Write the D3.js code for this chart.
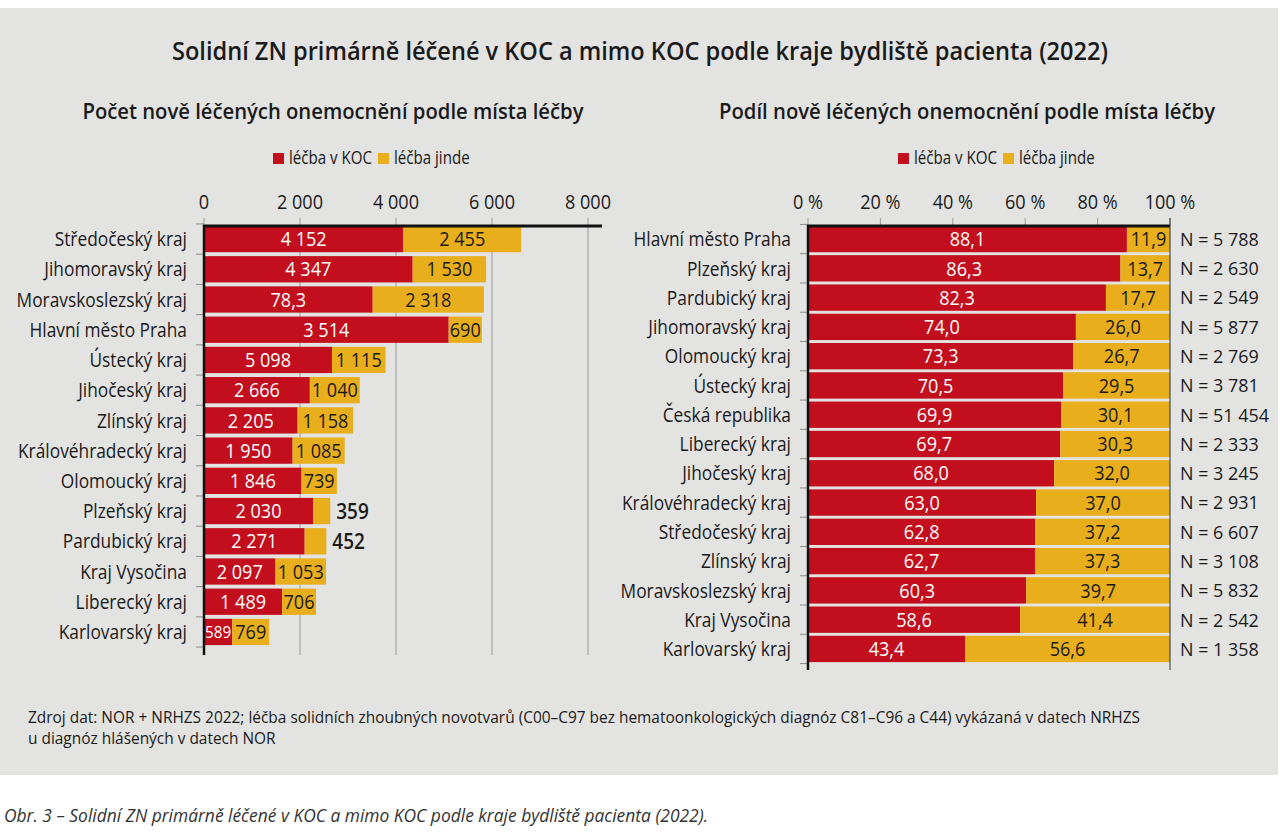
<!DOCTYPE html>
<html>
<head>
<meta charset="utf-8">
<script src="https://cdn.jsdelivr.net/npm/d3@7"></script>
<style>
  body { margin: 0; background: #fff; }
  svg { display: block; }
  text { font-family: 'Open Sans', 'DejaVu Sans', sans-serif; fill: #1a1a1a; }
</style>
</head>
<body>
<svg id="chart"></svg>
<script>
// --- left chart: counts ---
const regionsCount = ["Středočeský kraj", "Jihomoravský kraj", "Moravskoslezský kraj", "Hlavní město Praha",
    "Ústecký kraj", "Jihočeský kraj", "Zlínský kraj", "Královéhradecký kraj", "Olomoucký kraj",
    "Plzeňský kraj", "Pardubický kraj", "Kraj Vysočina", "Liberecký kraj", "Karlovarský kraj"];
const kocCount = [4152, 4347, 3514, 5098, 2666, 2205, 1950, 1846, 2030, 2271, 2097, 1489, 1627, 589];
const elseCount = [2455, 1530, 2318, 690, 1115, 1040, 1158, 1085, 739, 359, 452, 1053, 706, 769];
// labels printed inside the red bars (as they appear in the source)
const kocCountLabels = ["4 152", "4 347", "78,3", "3 514", "5 098", "2 666", "2 205", "1 950",
    "1 846", "2 030", "2 271", "2 097", "1 489", "589"];
const countTicks = [0, 2000, 4000, 6000, 8000];

// --- right chart: shares ---
const regionsShare = ["Hlavní město Praha", "Plzeňský kraj", "Pardubický kraj", "Jihomoravský kraj",
    "Olomoucký kraj", "Ústecký kraj", "Česká republika", "Liberecký kraj", "Jihočeský kraj",
    "Královéhradecký kraj", "Středočeský kraj", "Zlínský kraj", "Moravskoslezský kraj",
    "Kraj Vysočina", "Karlovarský kraj"];
const kocShare = [88.1, 86.3, 82.3, 74.0, 73.3, 70.5, 69.9, 69.7, 68.0, 63.0, 62.8, 62.7, 60.3, 58.6, 43.4];
const elseShare = [11.9, 13.7, 17.7, 26.0, 26.7, 29.5, 30.1, 30.3, 32.0, 37.0, 37.2, 37.3, 39.7, 41.4, 56.6];
const totalN = [5788, 2630, 2549, 5877, 2769, 3781, 51454, 2333, 3245, 2931, 6607, 3108, 5832, 2542, 1358];
const shareTicks = [0, 20, 40, 60, 80, 100];

const legendKeys = ["léčba v KOC", "léčba jinde"];

const W = 1280, H = 840;
const RED = "#c20e1d", YELLOW = "#e8ae1b", BG = "#e3e3e2";

const cz = d3.formatLocale({decimal: ",", thousands: "\u00a0", grouping: [3], currency: ["", ""]});
const fmtInt = cz.format(",d");
const fmtPct = cz.format(".1f");

const svg = d3.select("#chart")
    .attr("width", W)
    .attr("height", H)
    .attr("viewBox", [0, 0, W, H]);

// the source uses a condensed face: squeeze text horizontally so that a
// sample string gets the width it has in the picture
function factor(sample, size, target, weight = "normal", italic = false) {
    const t = svg.append("text")
        .style("font-size", size + "px")
        .style("font-weight", weight)
        .style("font-style", italic ? "italic" : "normal")
        .text(sample);
    const w = t.node().getComputedTextLength();
    t.remove();
    return target / w;
}
function squeeze(sel, k) {
    sel.each(function() {
        const w = this.getComputedTextLength() * k;
        this.setAttribute("textLength", w);
        this.setAttribute("lengthAdjust", "spacingAndGlyphs");
        this.__w = w;
    });
    return sel;
}

const kCat = factor("Královéhradecký kraj", 20, 169);
const kVal = factor("4 152", 20, 46);
const kTick = factor("8 000", 20, 46);
const kLeg = factor("léčba v KOC", 18, 83);
const kN = factor("N = 51 454", 19, 89);

svg.append("rect")
    .attr("x", 0).attr("y", 8)
    .attr("width", 1278).attr("height", 767)
    .attr("fill", BG);

const titleText = "Solidní ZN primárně léčené v KOC a mimo KOC podle kraje bydliště pacienta (2022)";
squeeze(svg.append("text")
    .attr("x", 640).attr("y", 60)
    .attr("text-anchor", "middle")
    .style("font-size", "26px")
    .style("font-weight", 600)
    .text(titleText), factor(titleText, 26, 936, 600));

function legend(x0, y0) {
    const g = svg.append("g").attr("transform", `translate(${x0},${y0})`);
    let cx = 0;
    legendKeys.forEach((k, i) => {
        g.append("rect")
            .attr("x", cx).attr("y", -5)
            .attr("width", 11).attr("height", 11)
            .attr("fill", i === 0 ? RED : YELLOW);
        const t = squeeze(g.append("text")
            .attr("x", cx + 16).attr("y", 0)
            .attr("dy", "0.35em")
            .style("font-size", "18px")
            .text(k), kLeg);
        cx += 16 + t.node().__w + 6;
    });
}

function subtitle(x, text, width) {
    squeeze(svg.append("text")
        .attr("x", x).attr("y", 119)
        .attr("text-anchor", "middle")
        .style("font-size", "22px")
        .style("font-weight", 600)
        .text(text), factor(text, 22, width, 600));
}

function stacked(opts) {
    const {cats, a, b, aLabels, bLabels, x, y, ticks, tickFmt, bottom, fullGrid} = opts;
    const x0 = x(0);
    const g = svg.append("g");

    // grid + top tick marks
    g.append("g")
        .selectAll("line")
        .data(ticks)
        .join("line")
        .attr("x1", d => x(d)).attr("x2", d => x(d))
        .attr("y1", 218)
        .attr("y2", d => d === 0 ? 226 : (fullGrid ? bottom : 226))
        .attr("stroke", "#9a9a9a")
        .attr("stroke-width", 1);

    squeeze(g.append("g")
        .style("font-size", "20px")
        .attr("text-anchor", "middle")
        .selectAll("text")
        .data(ticks)
        .join("text")
        .attr("x", d => x(d))
        .attr("y", 209)
        .text(tickFmt), kTick);

    // band boundary ticks
    const step = y.step(), pad = y.paddingInner() * step / 2;
    const bounds = cats.map(c => y(c) - pad).concat([y(cats[cats.length - 1]) + y.bandwidth() + pad]);
    g.append("g")
        .selectAll("line")
        .data(bounds)
        .join("line")
        .attr("x1", x0 - 8).attr("x2", x0)
        .attr("y1", d => d).attr("y2", d => d)
        .attr("stroke", "#8a8a8a");

    // category labels
    squeeze(g.append("g")
        .attr("text-anchor", "end")
        .style("font-size", "20px")
        .selectAll("text")
        .data(cats)
        .join("text")
        .attr("x", x0 - 17)
        .attr("y", d => y(d) + y.bandwidth() / 2)
        .attr("dy", "0.36em")
        .text(d => d), kCat);

    const rows = cats.map((c, i) => ({c, a: a[i], b: b[i], la: aLabels[i], lb: bLabels[i]}));

    const bars = g.append("g");
    bars.selectAll("rect.koc")
        .data(rows)
        .join("rect")
        .attr("class", "koc")
        .attr("x", x0)
        .attr("y", d => y(d.c))
        .attr("width", d => x(d.a) - x0)
        .attr("height", y.bandwidth())
        .attr("fill", RED);
    bars.selectAll("rect.else")
        .data(rows)
        .join("rect")
        .attr("class", "else")
        .attr("x", d => x(d.a))
        .attr("y", d => y(d.c))
        .attr("width", d => x(d.a + d.b) - x(d.a))
        .attr("height", y.bandwidth())
        .attr("fill", YELLOW);

    // red labels: shrink if they do not fit
    g.append("g")
        .attr("text-anchor", "middle")
        .selectAll("text")
        .data(rows)
        .join("text")
        .attr("x", d => (x0 + x(d.a)) / 2)
        .attr("y", d => y(d.c) + y.bandwidth() / 2)
        .attr("dy", "0.36em")
        .style("font-size", "20px")
        .style("fill", "#fff")
        .text(d => d.la)
        .each(function(d) {
            const w = x(d.a) - x0 - 2;
            let tw = this.getComputedTextLength() * kVal;
            if (tw > w) {
                this.style.fontSize = (20 * w / tw) + "px";
                tw = w;
            }
            this.setAttribute("textLength", tw);
            this.setAttribute("lengthAdjust", "spacingAndGlyphs");
        });

    // yellow labels: put outside if they do not fit
    g.append("g")
        .attr("text-anchor", "middle")
        .selectAll("text")
        .data(rows)
        .join("text")
        .attr("x", d => (x(d.a) + x(d.a + d.b)) / 2)
        .attr("y", d => y(d.c) + y.bandwidth() / 2)
        .attr("dy", "0.36em")
        .style("font-size", "20px")
        .text(d => d.lb)
        .each(function(d) {
            const w = x(d.a + d.b) - x(d.a);
            let tw = this.getComputedTextLength() * kVal;
            if (tw > w + 2) {
                d3.select(this)
                    .attr("text-anchor", "start")
                    .attr("x", x(d.a + d.b) + 6)
                    .style("font-size", "21px")
                    .style("font-weight", 600);
                tw = this.getComputedTextLength() * kVal;
            }
            this.setAttribute("textLength", tw);
            this.setAttribute("lengthAdjust", "spacingAndGlyphs");
        });

    // axis lines
    g.append("line")
        .attr("x1", x0).attr("x2", x0)
        .attr("y1", 225).attr("y2", bottom)
        .attr("stroke", "#111").attr("stroke-width", 2.5);
    g.append("line")
        .attr("x1", x0 - 1).attr("x2", opts.lineEnd)
        .attr("y1", 226).attr("y2", 226)
        .attr("stroke", "#111").attr("stroke-width", 3);
    return g;
}

// left chart
subtitle(333, "Počet nově léčených onemocnění podle místa léčby", 501);
legend(273, 158);

const xL = d3.scaleLinear().domain([0, 8000]).range([204, 588]);
const yL = d3.scaleBand().domain(regionsCount).range([225, 646]).paddingInner(0.13).paddingOuter(0.03);
stacked({
    cats: regionsCount, a: kocCount, b: elseCount,
    aLabels: kocCountLabels, bLabels: elseCount.map(fmtInt),
    x: xL, y: yL, ticks: countTicks, tickFmt: fmtInt,
    bottom: 655, fullGrid: true, lineEnd: xL(8000) + 14
});

// right chart
subtitle(967, "Podíl nově léčených onemocnění podle místa léčby", 496);
legend(898, 158);

const xR = d3.scaleLinear().domain([0, 100]).range([808, 1170]);
const yR = d3.scaleBand().domain(regionsShare).range([225, 663]).paddingInner(0.1).paddingOuter(0.03);
stacked({
    cats: regionsShare, a: kocShare, b: elseShare,
    aLabels: kocShare.map(fmtPct), bLabels: elseShare.map(fmtPct),
    x: xR, y: yR, ticks: shareTicks, tickFmt: d => d + "\u00a0%",
    bottom: 670, fullGrid: false, lineEnd: xR(100)
});
// 100 % closing line
svg.append("line")
    .attr("x1", xR(100)).attr("x2", xR(100))
    .attr("y1", 218).attr("y2", 670)
    .attr("stroke", "#333").attr("stroke-width", 1);

squeeze(svg.append("g")
    .style("font-size", "19px")
    .selectAll("text")
    .data(regionsShare.map((c, i) => ({c, n: totalN[i]})))
    .join("text")
    .attr("x", xR(100) + 10)
    .attr("y", d => yR(d.c) + yR.bandwidth() / 2)
    .attr("dy", "0.36em")
    .text(d => "N = " + fmtInt(d.n)), kN);

// footer
const note1 = "Zdroj dat: NOR + NRHZS 2022; léčba solidních zhoubných novotvarů (C00–C97 bez hematoonkologických diagnóz C81–C96 a C44) vykázaná v datech NRHZS";
const kNote = factor(note1, 17, 1112);
squeeze(svg.append("g")
    .style("font-size", "17px")
    .selectAll("text")
    .data([note1, "u diagnóz hlášených v datech NOR"])
    .join("text")
    .attr("x", 28)
    .attr("y", (d, i) => 723 + i * 21)
    .text(d => d), kNote);

const caption = "Obr. 3 – Solidní ZN primárně léčené v KOC a mimo KOC podle kraje bydliště pacienta (2022).";
squeeze(svg.append("text")
    .attr("x", 4).attr("y", 822)
    .style("font-size", "19px")
    .style("font-style", "italic")
    .style("fill", "#333")
    .text(caption), factor(caption, 19, 704, "normal", true));
</script>
</body>
</html>
